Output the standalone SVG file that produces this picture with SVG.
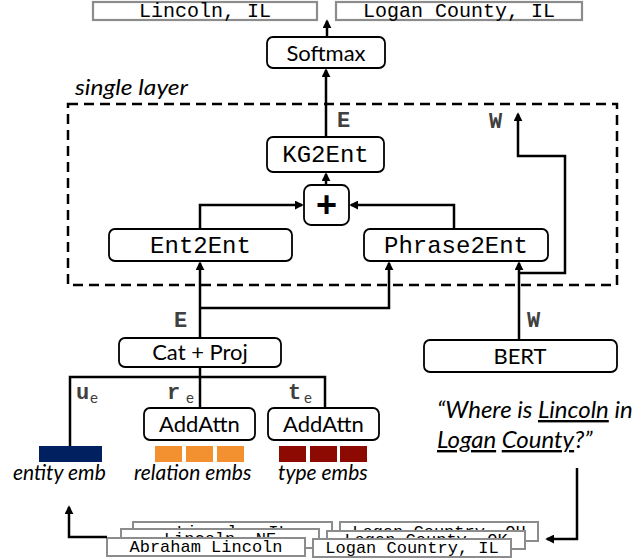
<svg xmlns="http://www.w3.org/2000/svg" width="634" height="560" viewBox="0 0 634 560">
<defs>
<marker id="ah" viewBox="0 0 10 10" refX="8" refY="5" markerWidth="9" markerHeight="9" orient="auto" markerUnits="userSpaceOnUse"><path d="M0,0 L10,5 L0,10 z" fill="#000"/></marker>
<style>
.node rect{fill:#fff;stroke:#000;stroke-width:1.8}
.sans{font-family:Lato,"Open Sans",sans-serif;font-size:22px;fill:#000;text-anchor:middle}
.mono{font-family:"Liberation Mono","Courier New",monospace;font-size:24px;fill:#000;text-anchor:middle}
.cand rect{fill:#fff;stroke:#8c8c8c;stroke-width:2}
.cand text{font-family:"Liberation Mono","Courier New",monospace;font-size:17px;text-anchor:middle;fill:#000}
.top rect{fill:#fff;stroke:#8c8c8c;stroke-width:2.2}
.top text{font-family:"Liberation Mono","Courier New",monospace;font-size:20px;text-anchor:middle;fill:#000}
.conn path{fill:none;stroke:#000;stroke-width:2.5}
.lbl{font-family:"Liberation Mono","Courier New",monospace;font-weight:bold;font-size:22px;fill:#404040}
.sub{font-family:Lato,sans-serif;font-size:15px;fill:#404040}
.it{font-family:Lato,"Open Sans",sans-serif;font-style:italic;font-size:21px;fill:#000}
.q{font-family:Lato,"Open Sans",sans-serif;font-style:italic;font-size:24px;fill:#000}
</style>
</defs>
<rect width="634" height="560" fill="#fff"/>

<g id="out-lincoln" class="top"><rect x="93" y="2" width="224" height="18"/><text x="205" y="17">Lincoln, IL</text></g>
<g id="out-logan" class="top"><rect x="336" y="2" width="246" height="18"/><text x="459" y="17">Logan County, IL</text></g>

<g id="layer-frame">
<rect x="68" y="104" width="549" height="181" fill="none" stroke="#000" stroke-width="2.5" stroke-dasharray="10 6"/>
<text x="75" y="95" class="it" font-size="24" textLength="113" lengthAdjust="spacingAndGlyphs">single layer</text>
</g>

<g id="softmax" class="node"><rect x="267" y="37" width="118" height="31" rx="6"/><text x="326" y="61" class="sans">Softmax</text></g>
<g id="kg2ent" class="node"><rect x="267" y="137" width="117" height="35" rx="6"/><text x="325.5" y="162" class="mono">KG2Ent</text></g>
<g id="plus" class="node"><rect x="304" y="185" width="45" height="40" rx="7"/><text x="326.5" y="217" font-family="Liberation Sans,Arial,sans-serif" font-weight="bold" font-size="36" text-anchor="middle">+</text></g>
<g id="ent2ent" class="node"><rect x="109" y="229" width="183" height="32" rx="6"/><text x="200.5" y="253" class="mono">Ent2Ent</text></g>
<g id="phrase2ent" class="node"><rect x="364" y="229" width="184" height="32" rx="6"/><text x="456" y="253" class="mono">Phrase2Ent</text></g>
<g id="catproj" class="node"><rect x="119" y="338" width="162" height="29" rx="6"/><text x="200" y="360" class="sans">Cat + Proj</text></g>
<g id="bert" class="node"><rect x="424" y="340" width="193" height="32" rx="6"/><text x="520" y="364" class="sans">BERT</text></g>
<g id="addattn-rel" class="node"><rect x="144" y="408" width="111" height="32" rx="6"/><text x="199.5" y="432" class="sans">AddAttn</text></g>
<g id="addattn-type" class="node"><rect x="268" y="408" width="111" height="32" rx="6"/><text x="323.5" y="432" class="sans">AddAttn</text></g>

<g id="entity-emb"><rect x="39" y="446" width="63" height="16" fill="#002060"/><text x="13" y="480" class="it">entity emb</text></g>
<g id="relation-embs"><g fill="#F39130"><rect x="155" y="446" width="27" height="16"/><rect x="186" y="446" width="27" height="16"/><rect x="217" y="446" width="27" height="16"/></g><text x="134" y="480" class="it">relation embs</text></g>
<g id="type-embs"><g fill="#8C0A02"><rect x="279" y="446" width="27" height="16"/><rect x="310" y="446" width="27" height="16"/><rect x="340" y="446" width="27" height="16"/></g><text x="278" y="480" class="it">type embs</text></g>

<g id="question">
<text x="437" y="418" class="q">“Where is <tspan text-decoration="underline">Lincoln</tspan> in</text>
<text x="437" y="448" class="q"><tspan text-decoration="underline">Logan</tspan> <tspan text-decoration="underline">County</tspan>?”</text>
</g>

<g id="candidates" class="cand">
<g id="cand-lincoln-il"><rect x="133" y="522" width="199" height="19"/><text x="232.5" y="537">Lincoln, IL</text></g>
<g id="cand-logan-oh"><rect x="340" y="522" width="198" height="19"/><text x="439" y="537">Logan Country, OH</text></g>
<g id="cand-lincoln-ne"><rect x="121" y="529" width="198" height="19"/><text x="220" y="544">Lincoln, NE</text></g>
<g id="cand-logan-ok"><rect x="327" y="531" width="198" height="18"/><text x="426" y="545">Logan County, OK</text></g>
<g id="cand-abraham"><rect x="107" y="538" width="198" height="18"/><text x="206" y="552">Abraham Lincoln</text></g>
<g id="cand-logan-il"><rect x="313" y="539" width="198" height="18"/><text x="412" y="553">Logan Country, IL</text></g>
</g>

<g id="connectors" class="conn">
<path d="M327,37 V21" marker-end="url(#ah)"/>
<path d="M326,137 V70" marker-end="url(#ah)"/>
<path d="M326,185 V174" marker-end="url(#ah)"/>
<path d="M200,229 V205 H302" marker-end="url(#ah)"/>
<path d="M454,229 V205 H351" marker-end="url(#ah)"/>
<path d="M200,338 V263" marker-end="url(#ah)"/>
<path d="M200,308 H389 V263" marker-end="url(#ah)"/>
<path d="M519,340 V263" marker-end="url(#ah)"/>
<path d="M519,273 H565 V156 H518 V114" marker-end="url(#ah)"/>
<path d="M200,367 V408"/>
<path d="M70,446 V377 H325 V408"/>
<path d="M577,468 V539 H547" marker-end="url(#ah)"/>
<path d="M107,537 H69 V507" marker-end="url(#ah)"/>
</g>

<g id="labels">
<text x="337" y="127" class="lbl">E</text>
<text x="489" y="128" class="lbl">W</text>
<text x="174" y="327" class="lbl">E</text>
<text x="527" y="327" class="lbl">W</text>
<text x="76" y="399" class="lbl">u</text><text x="90" y="403" class="sub">e</text>
<text x="167" y="399" class="lbl">r</text><text x="186" y="403" class="sub">e</text>
<text x="288" y="399" class="lbl">t</text><text x="304" y="403" class="sub">e</text>
</g>
</svg>
